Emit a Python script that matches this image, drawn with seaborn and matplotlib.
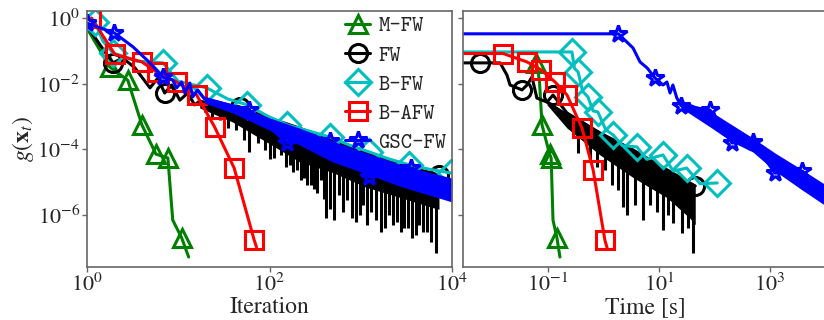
import os
import matplotlib
matplotlib.use("Agg")
import matplotlib.pyplot as plt
from matplotlib.font_manager import FontProperties
from matplotlib.ticker import NullLocator
import seaborn as sns

# ---------------- left panel: gap vs iteration ----------------
mfw_it = [1, 1.78, 2.8, 4.0, 5.7, 7.7, 8.7, 10.9, 13]
mfw_gap_it = [0.5, 0.033, 0.013, 5.6e-4, 7.2e-5, 5.5e-5, 7e-7, 2e-7, 5.2e-8]

fw_it = [1, 1.39, 1.92, 2.47, 3.35, 4.9, 5.97, 7.1, 8.5, 10.4, 12.7, 15.1, 17.2, 28,
         39.4, 47, 60.4, 100, 213, 488, 1150, 2640, 6050, 7200]
fw_gap_it = [0.6, 0.155, 0.044, 0.062, 0.031, 7.6e-3, 0.015, 5.3e-3, 9.3e-3, 3.2e-3, 5.3e-3,
             2.3e-3, 3.0e-3, 2.2e-3, 2.2e-3, 2.0e-3, 1.5e-3, 9e-4, 4.5e-4, 1.8e-4,
             7.8e-5, 3.6e-5, 1.9e-5, 1.66e-5]
# dense oscillating part of FW
fw_band_it = [17.2, 39.4, 60.4, 100, 213, 488, 1150, 2640, 6050, 7200]
fw_band_it_hi = [3.0e-3, 2.2e-3, 1.5e-3, 9e-4, 4.5e-4, 1.8e-4, 7.8e-5, 3.6e-5, 1.9e-5, 1.5e-5]
fw_band_it_lo = [1.85e-3, 6.9e-4, 3.4e-4, 1.5e-4, 4.2e-5, 2.0e-5, 7.0e-6, 3.5e-6, 1.7e-6, 1.5e-6]
fw_spike_it = [19.4, 23.2, 28.4, 34.8, 42.5, 52, 60, 74, 90, 100, 113, 135, 150, 166, 180, 202,
               220, 241, 260, 288, 310, 335, 370, 395, 420, 460, 513, 582, 640, 712, 800, 893,
               980, 1065, 1180, 1300, 1480, 1675, 1850, 2050, 2270, 2505, 2750, 2990, 3300,
               3655, 4000, 4355, 4800, 5330, 5900, 6690]
fw_spike_it_top = [2.9e-3, 2.6e-3, 2.3e-3, 2.0e-3, 1.7e-3, 1.4e-3, 1.2e-3, 1.0e-3, 8.2e-4,
                   9e-4, 6.6e-4, 5.6e-4, 6e-4, 4.6e-4, 5e-4, 3.8e-4, 4.4e-4, 3.2e-4, 3.8e-4,
                   2.6e-4, 3e-4, 2.2e-4, 1.9e-4, 2.3e-4, 1.55e-4, 1.9e-4, 1.3e-4, 1.1e-4,
                   1.4e-4, 9e-5, 1.1e-4, 7.2e-5, 9e-5, 6.2e-5, 7.6e-5, 5e-5, 6e-5, 4e-5,
                   4.8e-5, 3.3e-5, 4e-5, 2.8e-5, 3.4e-5, 2.4e-5, 2.8e-5, 2.1e-5, 2.4e-5,
                   1.8e-5, 2.1e-5, 1.6e-5, 1.9e-5, 1.4e-5]
fw_spike_it_bot = [1.4e-3, 9.2e-4, 8e-4, 4.5e-4, 3.9e-4, 1.95e-4, 8.4e-5, 1.58e-4, 9.7e-5, 5e-5,
                   5.5e-5, 6.8e-5, 3e-5, 3.4e-5, 2e-5, 2.4e-5, 1.2e-5, 1.35e-5, 8e-6, 8.2e-6,
                   6e-6, 4.7e-6, 1.17e-5, 3e-6, 8.1e-7, 1.5e-6, 7e-7, 4.1e-6, 1.2e-6, 2.9e-6,
                   8e-7, 6.1e-7, 1e-6, 2e-6, 5e-7, 1.24e-6, 7e-7, 3e-7, 4e-7, 1e-6, 5e-7,
                   6.1e-7, 3e-7, 4e-7, 4e-7, 2e-7, 2.5e-7, 5e-7, 3e-7, 3e-7, 1.5e-7, 6.9e-8]

bfw_it = [1, 1.22, 1.5, 1.92, 3.5, 6.8, 10, 20.5, 34.8, 57, 95, 157, 267, 455, 749, 1240, 2050,
          3400, 5600, 9800, 10000]
bfw_gap_it = [0.45, 0.78, 0.2, 0.089, 0.05, 0.044, 0.012, 7.6e-3, 3.5e-3, 2.3e-3, 1.05e-3,
              5.6e-4, 3.7e-4, 2.4e-4, 1.37e-4, 8.4e-5, 5.1e-5, 3.4e-5, 2.5e-5, 1.9e-5, 1.9e-5]

bafw_it = [1.12, 2.02, 4.0, 5.8, 9.6, 15.9, 25, 41, 68, 72]
bafw_gap_it = [1.03, 0.08, 0.047, 0.023, 0.0115, 4.6e-3, 4.9e-4, 2.7e-5, 1.7e-7, 1.05e-7]

gsc_it = [1, 2.0, 3.2, 4.9, 6.8, 8.7, 9.6, 10.9, 11.8, 13.4, 14.4, 16.3, 19.4, 60, 157, 455,
          1240, 3560, 10000]
gsc_gap_it = [0.72, 0.36, 0.135, 0.044, 0.016, 0.0132, 7.6e-3, 0.0115, 5.3e-3, 0.0107, 4e-3,
              6.6e-3, 3.5e-3, 1.6e-3, 1.58e-4, 1.8e-4, 1.45e-5, 2.7e-5, 6e-6]
gsc_band_it = [19.4, 39.4, 100, 213, 488, 1150, 2640, 6050, 10000]
gsc_band_it_hi = [4.2e-3, 2.45e-3, 9.2e-4, 4.5e-4, 1.8e-4, 7.8e-5, 3.6e-5, 1.9e-5, 1.35e-5]
gsc_band_it_lo = [2.6e-3, 1.3e-3, 3.9e-4, 1.37e-4, 4.2e-5, 1.8e-5, 7.7e-6, 3.8e-6, 2.5e-6]

# ---------------- right panel: gap vs time ----------------
mfw_t = [0.062, 0.070, 0.078, 0.107, 0.114, 0.123, 0.145, 0.164]
mfw_gap_t = [0.045, 0.013, 5.6e-4, 7.2e-5, 5.5e-5, 7e-7, 2e-7, 5.2e-8]

fw_t = [2e-3, 6e-3, 0.0137, 0.0182, 0.0207, 0.0276, 0.034, 0.042, 0.0515, 0.063, 0.096, 0.123,
        0.22, 0.865, 3.4, 6.9, 13.9, 36, 45]
fw_gap_t = [0.044, 0.044, 0.044, 0.0188, 9.3e-3, 7.6e-3, 6.6e-3, 9.3e-3, 0.0164, 3.7e-3, 2.8e-3,
            4.6e-3, 1.3e-3, 3.2e-4, 9.7e-5, 4.8e-5, 2.4e-5, 9.5e-6, 7.7e-6]
fw_band_t = [0.096, 0.22, 0.865, 3.4, 6.9, 13.9, 36, 45]
fw_band_t_hi = [3.2e-3, 1.3e-3, 3.2e-4, 9.7e-5, 4.8e-5, 2.4e-5, 9.5e-6, 7.7e-6]
fw_band_t_lo = [2.3e-3, 4.5e-4, 6.8e-5, 1.4e-5, 6.8e-6, 3.4e-6, 8e-7, 5e-7]
fw_spike_t = [0.348, 0.571, 0.76, 1.06, 1.42, 1.82, 2.24, 2.65, 3.7, 5.1, 6.9, 9.2, 11.8, 14.5,
              17.8, 26, 33, 41]
fw_spike_t_top = [9.2e-4, 5.2e-4, 3.9e-4, 2.8e-4, 2.1e-4, 1.58e-4, 1.28e-4, 1.1e-4, 8.4e-5,
                  6.3e-5, 4.8e-5, 3.6e-5, 2.9e-5, 2.4e-5, 1.9e-5, 1.35e-5, 1.09e-5, 8.2e-6]
fw_spike_t_bot = [7.8e-5, 4.8e-5, 2.9e-5, 2.4e-5, 8.2e-6, 5.8e-6, 1.75e-6, 1e-6, 2e-6, 7e-7,
                  2e-6, 1.24e-6, 3.5e-7, 1e-6, 5.7e-7, 2.8e-7, 4e-7, 6.9e-8]

bfw_t = [2e-3, 0.27, 0.30, 0.35, 0.42, 0.525, 0.65, 0.79, 1.1, 1.48, 2.2, 4.0, 6.0, 11.8, 18,
         31.6, 55, 112]
bfw_gap_t = [0.095, 0.095, 0.03, 0.023, 6e-3, 4e-3, 1.5e-3, 1.4e-3, 4e-4, 2.8e-4, 1.3e-4, 1.2e-4,
             5e-5, 6.8e-5, 2.2e-5, 2.7e-5, 9e-6, 9.5e-6]

bafw_t = [2e-3, 0.0155, 0.042, 0.075, 0.134, 0.22, 0.41, 0.65, 1.06, 1.16]
bafw_gap_t = [0.085, 0.085, 0.047, 0.027, 0.0115, 4.6e-3, 4.5e-4, 2.4e-5, 1.7e-7, 1.0e-7]

gsc_t = [2e-3, 1.85, 3.4, 4.55, 6.1, 8.5, 11.8, 13.9, 15.8, 17.8, 21, 25, 83, 208, 490, 1230,
         3800, 12000]
gsc_gap_t = [0.34, 0.34, 0.126, 0.047, 0.031, 0.0152, 9.3e-3, 0.0115, 5.3e-3, 9.3e-3, 3.7e-3,
             2.2e-3, 1.6e-3, 1.58e-4, 1.7e-4, 1.9e-5, 2.2e-5, 4e-6]
gsc_band_t = [21, 25, 83, 208, 490, 1230, 3800, 8900, 12000]
gsc_band_t_hi = [3.7e-3, 3.2e-3, 1.5e-3, 5.6e-4, 2.25e-4, 7.8e-5, 2.4e-5, 9.5e-6, 7.7e-6]
gsc_band_t_lo = [3.0e-3, 1.85e-3, 4.9e-4, 1.7e-4, 8.4e-5, 2.2e-5, 5.8e-6, 2.2e-6, 1.75e-6]

labels = ["M-FW", "FW", "B-FW", "B-AFW", "GSC-FW"]
colors = ["g", "k", "c", "r", "b"]
markers = ["^", "o", "D", "s", "*"]

sns.set_style("ticks")
plt.rcParams["font.family"] = ["STIXGeneral", "DejaVu Serif"]
plt.rcParams["mathtext.fontset"] = "stix"

fig = plt.figure(figsize=(8.24, 3.2), dpi=100)
ax1 = fig.add_axes([87 / 824, 53 / 320, 365 / 824, 256 / 320])
ax2 = fig.add_axes([463 / 824, 53 / 320, 365 / 824, 256 / 320])

lw = 2.2
style = dict(lw=lw, ms=13, mew=lw, mfc="none", estimator=None, sort=False)


def draw(ax, series, fw_band, fw_spikes, gsc_band):
    for z, ((x, y, mk_idx), lab, col, mk) in enumerate(zip(series, labels, colors, markers)):
        zo = 2 + z
        if lab == "FW":
            ax.fill_between(fw_band[0], fw_band[2], fw_band[1], color="k", lw=0, zorder=zo)
            ax.vlines(fw_spikes[0], fw_spikes[2], fw_spikes[1], color="k", lw=lw, zorder=zo)
        if lab == "GSC-FW":
            ax.fill_between(gsc_band[0], gsc_band[2], gsc_band[1], color="b", lw=0, zorder=zo)
        sns.lineplot(x=x, y=y, ax=ax, color=col, marker=mk, markevery=mk_idx,
                     mec=col, label=lab, legend=False, zorder=zo, **style)


draw(ax1,
     [(mfw_it, mfw_gap_it, [1, 2, 3, 4, 5, 7]),
      (fw_it, fw_gap_it, [2, 7, 15, 23]),
      (bfw_it, bfw_gap_it, [1, 3, 5, 7, 9, 11, 13, 15, 17, 19]),
      (bafw_it, bafw_gap_it, list(range(9))),
      (gsc_it, gsc_gap_it, [0, 1, 4, 13, 14, 15, 16, 17])],
     (fw_band_it, fw_band_it_hi, fw_band_it_lo),
     (fw_spike_it, fw_spike_it_top, fw_spike_it_bot),
     (gsc_band_it, gsc_band_it_hi, gsc_band_it_lo))

draw(ax2,
     [(mfw_t, mfw_gap_t, [0, 2, 3, 4, 6]),
      (fw_t, fw_gap_t, [1, 6, 11, 18]),
      (bfw_t, bfw_gap_t, [1, 3, 5, 7, 9, 11, 13, 15, 17]),
      (bafw_t, bafw_gap_t, list(range(1, 9))),
      (gsc_t, gsc_gap_t, [1, 5, 11, 12, 13, 14, 15, 16])],
     (fw_band_t, fw_band_t_hi, fw_band_t_lo),
     (fw_spike_t, fw_spike_t_top, fw_spike_t_bot),
     (gsc_band_t, gsc_band_t_hi, gsc_band_t_lo))

for ax in (ax1, ax2):
    ax.set_xscale("log")
    ax.set_yscale("log")
    ax.set_ylim(2.58e-8, 1.69)
    ax.set_yticks([1, 1e-2, 1e-4, 1e-6])
    ax.yaxis.set_minor_locator(NullLocator())
    ax.xaxis.set_minor_locator(NullLocator())
    for sp in ax.spines.values():
        sp.set_color("#666666")
        sp.set_linewidth(1.2)
        sp.set_zorder(10)
    ax.tick_params(which="major", direction="out", length=3.5, width=1, color="#666666",
                   labelsize=16, pad=1.5)

ax1.set_xlim(1, 1e4)
ax1.set_xticks([1, 1e2, 1e4])
ax2.set_xlim(2.94e-3, 1.11e4)
ax2.set_xticks([1e-1, 1e1, 1e3])
ax2.tick_params(axis="y", labelleft=False)

ax1.set_xlabel("Iteration", fontsize=17, labelpad=0)
ax2.set_xlabel("Time [s]", fontsize=17, labelpad=0)
ax1.set_ylabel(r"$g(\mathbf{x}_t)$", fontsize=17, labelpad=1)

tt = FontProperties(fname=os.path.join(matplotlib.get_data_path(), "fonts", "ttf", "cmtt10.ttf"),
                    size=15.5)
leg = ax1.legend(loc="upper right", bbox_to_anchor=(1.0, 1.0), frameon=False, prop=tt,
                 handlelength=1.15, handletextpad=0.4, labelspacing=0.42, borderaxespad=0.15,
                 borderpad=0.1)
leg.set_zorder(20)

fig.savefig("out.png", dpi=100)
